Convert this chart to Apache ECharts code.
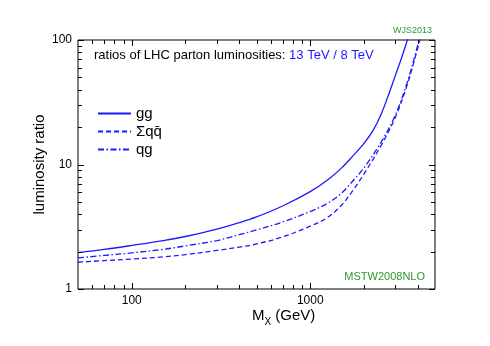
<!DOCTYPE html>
<html>
<head>
<meta charset="utf-8">
<script src="https://cdn.jsdelivr.net/npm/echarts@6/dist/echarts.min.js"></script>
<style>
html,body{margin:0;padding:0;background:#fff;}
#c{width:490px;height:346px;}
</style>
</head>
<body>
<div id="c"></div>
<script>
// ---- data ----
const massGG = [50, 70, 100, 150, 200, 300, 400, 500, 700, 1000, 1250, 1500, 1750, 2000, 2250, 2500, 2750, 3000, 3250, 3500, 3600];
const ratioGG = [1.96, 2.08, 2.24, 2.45, 2.64, 3.03, 3.41, 3.79, 4.64, 6.05, 7.5, 9.4, 11.9, 14.8, 18.8, 25.5, 36.5, 52, 72, 100, 116];

const massQQ = [50, 70, 100, 150, 200, 300, 400, 500, 700, 1000, 1250, 1500, 1750, 2000, 2500, 3000, 3500, 4000, 4250];
const ratioQQ = [1.64, 1.69, 1.74, 1.81, 1.89, 2.04, 2.17, 2.30, 2.62, 3.2, 3.75, 4.73, 6.3, 8.4, 14.3, 24, 44, 86, 120];

const massQG = [50, 70, 100, 150, 200, 300, 400, 500, 700, 1000, 1250, 1500, 1750, 2000, 2500, 3000, 3500, 4000, 4150];
const ratioQG = [1.775, 1.86, 1.95, 2.08, 2.22, 2.45, 2.73, 2.98, 3.45, 4.19, 4.88, 5.9, 7.5, 9.4, 15.2, 25, 46, 91, 115];

const seriesNames = ['gg', 'Σqq\u0304', 'qg'];
const xMajor = [100, 1000];
const xMinor = [60, 70, 80, 90, 200, 300, 400, 500, 600, 700, 800, 900, 2000, 3000, 4000];
const yMajor = [1, 10, 100];
const yMinor = [2, 3, 4, 5, 6, 7, 8, 9, 20, 30, 40, 50, 60, 70, 80, 90];
const xRange = [50, 5000];
const yRange = [1, 100];

const titleBlack = 'ratios of LHC parton luminosities: ';
const titleBlue = '13 TeV / 8 TeV';
const xName = ['M', 'X', ' (GeV)'];
const yName = 'luminosity ratio';
const tagTop = 'WJS2013';
const tagPdf = 'MSTW2008NLO';

// ---- chart ----
const BLUE = '#1a1aff';
const GREEN = '#2c9a2c';
const FONT = '"Liberation Sans", Arial, Helvetica, sans-serif';

function pair(xs, ys) { return xs.map((x, i) => [x, ys[i]]); }

function tickGraphics(chartInst) {
  // tick marks (as thin filled rects) and x tick labels placed through the axes' own scales
  const els = [];
  const p0 = chartInst.convertToPixel({ gridIndex: 0 }, [xRange[0], yRange[0]]);
  const p1 = chartInst.convertToPixel({ gridIndex: 0 }, [xRange[1], yRange[1]]);
  const g = { l: Math.round(p0[0]), b: Math.round(p0[1]), r: Math.round(p1[0]), t: Math.round(p1[1]) };
  function bar(x, y, w, h) {
    return { type: 'rect', silent: true, z: 100, shape: { x: x, y: y, width: w, height: h }, style: { fill: '#000' } };
  }
  function addX(v, len, label) {
    const px = chartInst.convertToPixel({ xAxisIndex: 0 }, v);
    const x = Math.round(px);
    els.push(bar(x, g.b - len, 1, len));
    els.push(bar(x, g.t, 1, len));
    if (label) {
      els.push({ type: 'text', silent: true, z: 100, x: px, y: g.b + 6,
        style: { text: String(v), fill: '#000', fontSize: 12, fontFamily: FONT, align: 'center', verticalAlign: 'top' } });
    }
  }
  function addY(v, len) {
    const y = Math.round(chartInst.convertToPixel({ yAxisIndex: 0 }, v));
    els.push(bar(g.l, y, len, 1));
    els.push(bar(g.r - len, y, len, 1));
  }
  xMajor.forEach(v => addX(v, 6, true));
  xMinor.forEach(v => addX(v, 4, false));
  yMajor.forEach(v => addY(v, 6));
  yMinor.forEach(v => addY(v, 4));
  return els;
}

const chart = echarts.init(document.getElementById('c'), null, { renderer: 'canvas' });
const lw = 1.3;
const lineCommon = { type: 'line', showSymbol: false, symbol: 'none', smooth: 0.35, clip: true };
const baseGraphics = [
  { type: 'text', left: 94, top: 49, silent: true,
    style: { text: '{k|' + titleBlack + '}{b|' + titleBlue + '}',
      rich: { k: { fill: '#000', fontSize: 13, fontFamily: FONT }, b: { fill: BLUE, fontSize: 13, fontFamily: FONT } } } },
  { type: 'text', left: 252, top: 308, silent: true,
    style: { text: '{m|' + xName[0] + '}{s|' + xName[1] + '}{m|' + xName[2] + '}',
      rich: { m: { fill: '#000', fontSize: 15, fontFamily: FONT, verticalAlign: 'bottom' }, s: { fill: '#000', fontSize: 10, fontFamily: FONT, verticalAlign: 'bottom', padding: [0, 0, -4, 0] } } } },
  { type: 'text', x: 40, y: 164.5, rotation: Math.PI / 2, silent: true,
    style: { text: yName, fill: '#000', fontSize: 15, fontFamily: FONT, align: 'center', verticalAlign: 'middle' } },
  { type: 'text', right: 58, top: 26, silent: true,
    style: { text: tagTop, fill: GREEN, fontSize: 9, fontFamily: FONT } },
  { type: 'text', right: 65, top: 271, silent: true,
    style: { text: tagPdf, fill: GREEN, fontSize: 11, fontFamily: FONT } }
];
chart.setOption({
  backgroundColor: '#fff',
  animation: false,
  textStyle: { fontFamily: FONT },
  grid: { left: 78, right: 55, top: 40, bottom: 57, show: true, borderColor: '#000', borderWidth: 1, backgroundColor: 'transparent' },
  xAxis: {
    type: 'log', logBase: 10, min: xRange[0], max: xRange[1],
    axisLine: { show: false }, axisTick: { show: false },
    axisLabel: { show: false },
    splitLine: { show: false }
  },
  yAxis: {
    type: 'log', logBase: 10, min: yRange[0], max: yRange[1],
    axisLine: { show: false }, axisTick: { show: false },
    axisLabel: { show: true, margin: 6, color: '#000', fontSize: 12, fontFamily: FONT, formatter: v => String(Math.round(v)) },
    splitLine: { show: false }
  },
  legend: {
    show: true, orient: 'vertical', left: 97, top: 106, padding: 0,
    itemWidth: 33, itemHeight: 14, itemGap: 3,
    data: seriesNames,
    itemStyle: { color: 'rgba(0,0,0,0)', borderWidth: 0, opacity: 0 },
    textStyle: { color: '#000', fontSize: 15, fontFamily: FONT }
  },
  series: [
    Object.assign({ name: seriesNames[0], data: pair(massGG, ratioGG),
      lineStyle: { color: BLUE, width: lw, type: 'solid' }, itemStyle: { color: BLUE } }, lineCommon),
    Object.assign({ name: seriesNames[1], data: pair(massQQ, ratioQQ),
      lineStyle: { color: BLUE, width: lw, type: [5, 3] }, itemStyle: { color: BLUE } }, lineCommon),
    Object.assign({ name: seriesNames[2], data: pair(massQG, ratioQG),
      lineStyle: { color: BLUE, width: lw, type: [6, 2.5, 1.5, 2.5] }, itemStyle: { color: BLUE } }, lineCommon)
  ],
  graphic: baseGraphics
});
chart.setOption({ graphic: baseGraphics.concat(tickGraphics(chart)) });
</script>
</body>
</html>
